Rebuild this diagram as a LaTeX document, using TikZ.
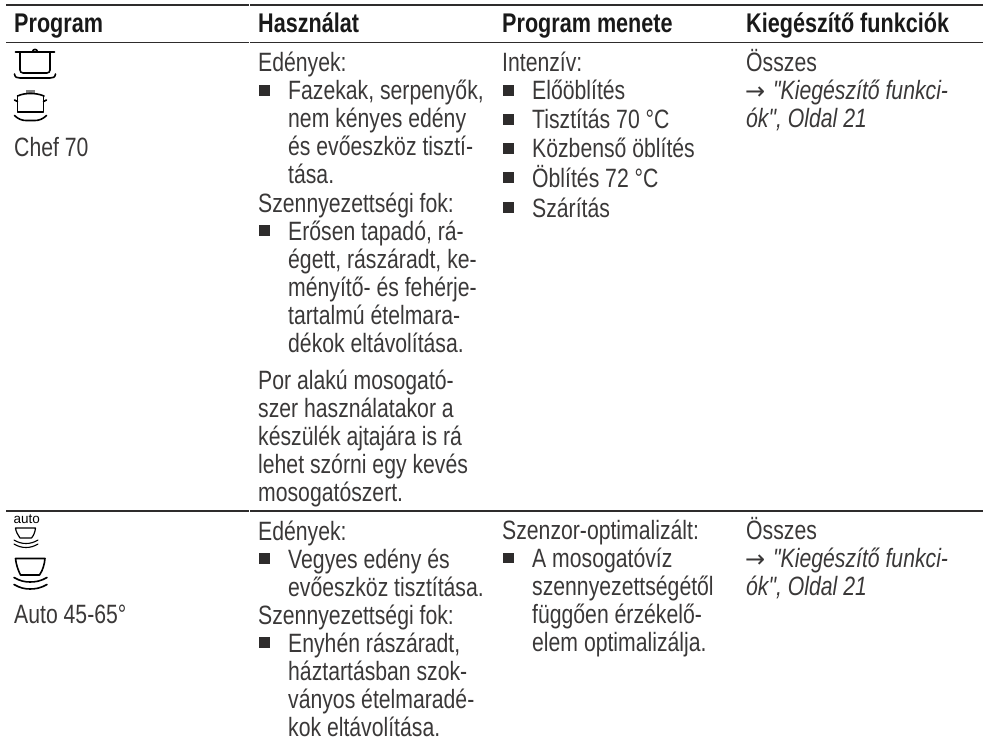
\documentclass[tikz,border=0pt]{standalone}
\usepackage{fontspec}
\setmainfont[FakeStretch=0.8]{Liberation Sans}
\newfontfamily\plainfont{Liberation Sans}
\newfontfamily\quotefont[FakeStretch=0.8]{Liberation Sans}
\newfontfamily\arrowfont[FakeStretch=1.0]{DejaVu Sans}
\definecolor{ink}{HTML}{3A3838}
\definecolor{rulec}{HTML}{2E2C2C}
\begin{document}
\begin{tikzpicture}[x=1pt,y=-1pt,
  txt/.style={inner sep=0pt,anchor=base west,text=ink,font=\fontsize{26.5}{28}\selectfont},
  itx/.style={txt,font=\fontsize{26.5}{28}\quotefont\itshape},
  arw/.style={inner sep=0pt,anchor=base west,text=ink,font=\fontsize{24}{28}\arrowfont},
  hdr/.style={inner sep=0pt,anchor=base west,text=black!90,font=\fontsize{27}{28}\selectfont\bfseries},
  bul/.style={rectangle,fill=rulec,inner sep=0pt,minimum size=10.5pt},
  rulel/.style={draw=rulec,line width=1.7pt},
  ico/.style={draw=black,line width=1.6pt,line cap=round,line join=round}]
\useasboundingbox (0,0) rectangle (983,741);
% rules
\foreach \y in {5,42.5,511}{
  \draw[rulel] (6,\y) -- (249,\y);
  \draw[rulel] (249.8,\y) -- (492.6,\y);
  \draw[rulel] (493.4,\y) -- (736.6,\y);
  \draw[rulel] (737.4,\y) -- (983,\y);
}
% headers
\node[hdr] (h1) at (14,33) {Program};
\node[hdr] (h2) at (258,33) {Használat};
\node[hdr] (h3) at (502,33) {Program menete};
\node[hdr] (h4) at (746,33) {Kiegészítő funkciók};
% col 1
\node[txt] (a1) at (14,157) {Chef 70};
\node[txt] (a2) at (14,623) {Auto 45-65°};
\node[inner sep=0pt,anchor=base west,text=black,font=\fontsize{13.5}{14}\plainfont] (a3) at (13.5,523) {auto};
% pot 1
\draw[ico] (15.5,52) -- (54.5,52);
\draw[ico,rounded corners=3pt] (20,52) -- (20,73) -- (50,73) -- (50,52);
\draw[ico] (32.5,52) .. controls (32.5,48.5) and (37.5,48.5) .. (37.5,52);
\draw[ico] (14.5,74) .. controls (15,77.5) and (17,78) .. (20,78) -- (50,78) .. controls (53,78) and (55,77.5) .. (55.5,74);
% pot 2
\fill[gray] (26,90) rectangle (35,93.5);
\draw[ico] (17.5,96) .. controls (22,94) and (26,93.5) .. (30.5,93.5) .. controls (35,93.5) and (39,94) .. (44,96);
\draw[ico] (17.5,96) -- (17.5,112) -- (43.5,112) -- (43.5,96);
\draw[ico] (14.5,100) -- (17.5,101.5);
\draw[ico] (46.5,100) -- (43.5,101.5);
\draw[ico] (14.5,115.5) .. controls (18,119) and (22,120.5) .. (26,120.5) -- (35,120.5) .. controls (39,120.5) and (43,119) .. (46.5,115.5);
% small bowl
\draw[ico,line width=1.2pt] (15.5,528) -- (35.5,528) .. controls (35,532) and (34,535) .. (31.5,538) -- (20,538) .. controls (18,535) and (16,532) .. (15.5,528);
\draw[ico,line width=1.1pt] (14,540) .. controls (18,542.5) and (22,543.5) .. (26,543.5) .. controls (30,543.5) and (34,542.5) .. (38,540);
\draw[ico,line width=1.1pt] (14,544) .. controls (18,546.5) and (22,547.5) .. (26,547.5) .. controls (30,547.5) and (34,546.5) .. (38,544);
% big bowl
\draw[ico] (15.5,558.5) -- (45,558.5) .. controls (44.5,564) and (43,570) .. (39.5,575) -- (20.5,575) .. controls (18,570) and (16,564) .. (15.5,558.5);
\draw[ico] (14,577.5) .. controls (20,581) and (25,582) .. (30,582) .. controls (36,582) and (41,581) .. (47,577.5);
\draw[ico] (14,584.5) .. controls (20,588) and (25,589) .. (30,589) .. controls (36,589) and (41,588) .. (47,584.5);
% col 2, upper
\node[txt] (b1) at (258,72) {Edények:};
\node[bul] (bb1) at (264.5,90.5) {};
\node[txt] (b2) at (288,100) {Fazekak, serpenyők,};
\node[txt] (b3) at (288,128) {nem kényes edény};
\node[txt] (b4) at (288,156) {és evőeszköz tisztí-};
\node[txt] (b5) at (288,184) {tása.};
\node[txt] (b6) at (258,212) {Szennyezettségi fok:};
\node[bul] (bb2) at (264.5,230.5) {};
\node[txt] (b7) at (288,240) {Erősen tapadó, rá-};
\node[txt] (b8) at (288,268) {égett, rászáradt, ke-};
\node[txt] (b9) at (288,296) {ményítő- és fehérje-};
\node[txt] (b10) at (288,324) {tartalmú ételmara-};
\node[txt] (b11) at (288,352) {dékok eltávolítása.};
\node[txt] (b12) at (258,389) {Por alakú mosogató-};
\node[txt] (b13) at (258,417) {szer használatakor a};
\node[txt] (b14) at (258,445) {készülék ajtajára is rá};
\node[txt] (b15) at (258,473) {lehet szórni egy kevés};
\node[txt] (b16) at (258,501) {mosogatószert.};
% col 2, lower
\node[txt] (c1) at (258,540) {Edények:};
\node[bul] (bc1) at (264.5,558.5) {};
\node[txt] (c2) at (288,568) {Vegyes edény és};
\node[txt] (c3) at (288,596) {evőeszköz tisztítása.};
\node[txt] (c4) at (258,624) {Szennyezettségi fok:};
\node[bul] (bc2) at (264.5,642.5) {};
\node[txt] (c5) at (288,652) {Enyhén rászáradt,};
\node[txt] (c6) at (288,680) {háztartásban szok-};
\node[txt] (c7) at (288,708) {ványos ételmaradé-};
\node[txt] (c8) at (288,736) {kok eltávolítása.};
% col 3, upper
\node[txt] (d1) at (502,72) {Intenzív:};
\node[bul] (bd1) at (508.5,90.5) {};
\node[txt] (d2) at (532,100) {Előöblítés};
\node[bul] (bd2) at (508.5,119.5) {};
\node[txt] (d3) at (532,129) {Tisztítás 70 °C};
\node[bul] (bd3) at (508.5,148.5) {};
\node[txt] (d4) at (532,158) {Közbenső öblítés};
\node[bul] (bd4) at (508.5,177.5) {};
\node[txt] (d5) at (532,187) {Öblítés 72 °C};
\node[bul] (bd5) at (508.5,207.5) {};
\node[txt] (d6) at (532,217) {Szárítás};
% col 3, lower
\node[txt] (e1) at (502,539) {Szenzor-optimalizált:};
\node[bul] (be1) at (508.5,558) {};
\node[txt] (e2) at (532,567) {A mosogatóvíz};
\node[txt] (e3) at (532,595) {szennyezettségétől};
\node[txt] (e4) at (532,623) {függően érzékelő-};
\node[txt] (e5) at (532,651) {elem optimalizálja.};
% col 4
\node[txt] (f1) at (746,72) {Összes};
\node[arw] (f2) at (745,100) {→};
\node[itx] (f3) at (773,100) {"Kiegészítő funkci-};
\node[itx] (f4) at (746,128) {ók", Oldal 21};
\node[txt] (g1) at (746,539) {Összes};
\node[arw] (g2) at (745,567) {→};
\node[itx] (g3) at (773,567) {"Kiegészítő funkci-};
\node[itx] (g4) at (746,595) {ók", Oldal 21};
\end{tikzpicture}
\end{document}
